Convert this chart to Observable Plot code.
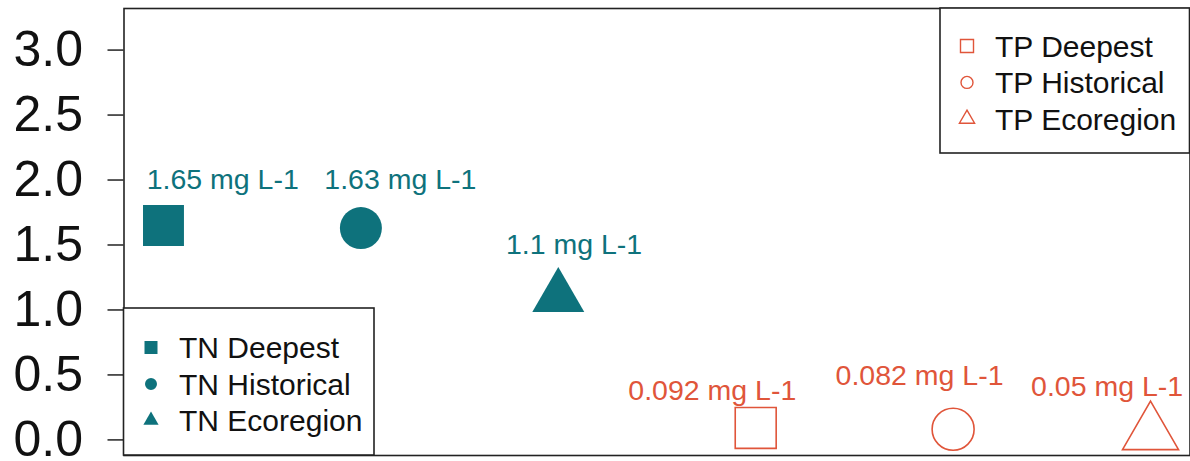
<!DOCTYPE html>
<html><head><meta charset="utf-8">
<script src="https://cdn.jsdelivr.net/npm/d3@7"></script>
<script src="https://cdn.jsdelivr.net/npm/@observablehq/plot@0.6"></script>
<style>body{margin:0;background:#fff;} #chart{width:1190px;height:461px;}</style>
</head><body><div id="chart"></div>
<script>
// ---- data ----
const nutrients = ["TN","TN","TN","TP","TP","TP"];
const methods = ["Deepest","Historical","Ecoregion","Deepest","Historical","Ecoregion"];
const xPos = [1,2,3,4,5,6];
const values = [1.65,1.63,1.1,0.092,0.082,0.05];
const labels = ["1.65 mg L-1","1.63 mg L-1","1.1 mg L-1","0.092 mg L-1","0.082 mg L-1","0.05 mg L-1"];
const labelX = [1.3,2.2,3.08,3.78,4.83,5.78];
const labelY = [2.0,2.0,1.5,0.38,0.49,0.41];
const yTicks = [0,0.5,1,1.5,2,2.5,3];
const legendTN = ["TN Deepest","TN Historical","TN Ecoregion"];
const legendTP = ["TP Deepest","TP Historical","TP Ecoregion"];

// ---- styles ----
const TEAL = "#0e727c", RED = "#e0553a", FONT = "'Liberation Sans', Arial, sans-serif";
const symbolOf = {Deepest: "square", Historical: "circle", Ecoregion: "triangle"};
const rOf = {TN: {Deepest: 23.1, Historical: 21, Ecoregion: 19.3},
             TP: {Deepest: 23.1, Historical: 21, Ecoregion: 20.8}};

const rows = xPos.map((x, i) => ({x, value: values[i], nutrient: nutrients[i], method: methods[i],
  label: labels[i], lx: labelX[i], ly: labelY[i]}));

const dotMarks = [];
for (const n of ["TN","TP"]) for (const m of ["Deepest","Historical","Ecoregion"]) {
  const sub = rows.filter(d => d.nutrient === n && d.method === m);
  dotMarks.push(Plot.dot(sub, {x: "x", y: "value", symbol: symbolOf[m], r: rOf[n][m],
    fill: n === "TN" ? TEAL : "none", stroke: n === "TN" ? "none" : RED, strokeWidth: 1.6}));
}

const chart = Plot.plot({
  width: 1190, height: 461,
  marginLeft: 123.5, marginRight: 0.5, marginTop: 8, marginBottom: 6,
  style: {fontFamily: FONT, background: "#fff"},
  x: {domain: [0.8, 6.2], axis: null},
  y: {domain: [-0.12, 3.32], nice: false},
  marks: [
    Plot.axisY({ticks: yTicks, tickFormat: d3.format(".1f"), tickSize: 16, tickPadding: 25,
      fontSize: 50, strokeWidth: 1.5, stroke: "#222", fill: "#111", label: null}),
    ...dotMarks,
    Plot.text(rows, {x: "lx", y: "ly", text: "label", fill: d => d.nutrient === "TN" ? TEAL : RED,
      fontSize: 28.5, textAnchor: "middle", lineAnchor: "middle"}),
    Plot.frame({stroke: "#222", strokeWidth: 1.6})
  ]
});
document.getElementById("chart").appendChild(chart);

// ---- legends drawn inside the plot frame ----
const svg = d3.select(chart);
function legend(items, color, filled, box, symX, textX, row0) {
  const g = svg.append("g").attr("font-family", FONT).attr("text-anchor", "start");
  g.append("rect").attr("x", box[0]).attr("y", box[1]).attr("width", box[2]).attr("height", box[3])
    .attr("fill", "#fff").attr("stroke", "#222").attr("stroke-width", 1.6);
  const syms = [d3.symbol(d3.symbolSquare, 169), d3.symbol(d3.symbolCircle, 113), d3.symbol(d3.symbolTriangle, 100)];
  items.forEach((t, i) => {
    const y = row0 + i * 36.4;
    g.append("path").attr("d", syms[i]()).attr("transform", `translate(${symX},${y})`)
      .attr("fill", filled ? color : "none").attr("stroke", filled ? "none" : color).attr("stroke-width", 1.4);
    g.append("text").attr("x", textX).attr("y", y).attr("dy", "0.36em").attr("font-size", 30)
      .attr("text-anchor", "start").attr("fill", "#111").text(t);
  });
}
legend(legendTN, TEAL, true, [123.5, 308, 250.5, 147], 151, 179, 347.5);
legend(legendTP, RED, false, [940, 8, 249.5, 145], 967, 995, 46);
</script></body></html>
